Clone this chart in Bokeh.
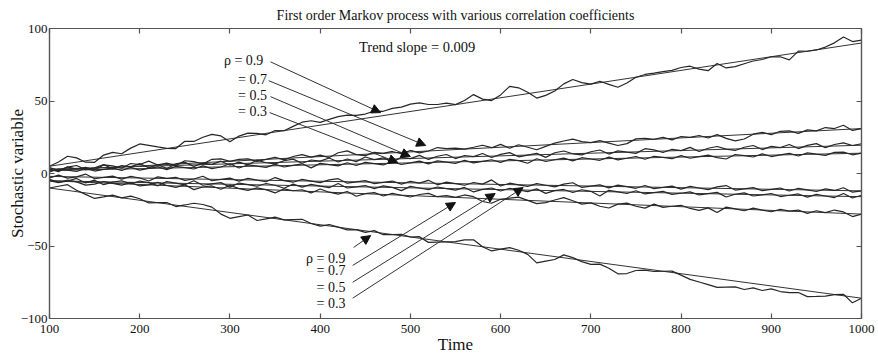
from bokeh.plotting import figure
from bokeh.models import LinearAxis, Range1d, FixedTicker, ColumnDataSource, Arrow, NormalHead
from bokeh.core.properties import value
from bokeh.embed import file_html
from bokeh.resources import INLINE

# ---------------- data ----------------
time = list(range(100, 1001, 10))

x_ticks = [100, 200, 300, 400, 500, 600, 700, 800, 900, 1000]
y_ticks = [-100, -50, 0, 50, 100]

# upper group (positive trends)
up_rho09 = [5.0, 7.9, 11.9, 10.8, 7.8, 7.7, 12.7, 14.6, 13.6, 17.5,
            20.4, 19.4, 18.3, 17.3, 17.2, 22.2, 22.1, 25.0, 27.0, 25.9,
            21.9, 25.8, 27.8, 27.7, 26.7, 29.6, 29.5, 32.5, 35.4, 36.4,
            35.3, 37.3, 39.2, 40.2, 40.1, 41.0, 43.0, 42.9, 44.9, 45.8,
            47.8, 48.7, 47.6, 47.6, 48.5, 47.5, 50.4, 54.4, 51.3, 50.3,
            54.2, 60.1, 59.1, 56.0, 52.0, 53.9, 56.9, 61.8, 64.8, 62.7,
            61.6, 63.6, 61.5, 59.5, 62.4, 66.4, 68.3, 69.2, 70.2, 71.1,
            73.1, 74.0, 72.0, 70.9, 75.9, 72.8, 73.7, 75.7, 77.6, 78.6,
            80.5, 80.5, 78.4, 84.4, 84.3, 85.2, 87.2, 90.1, 94.1, 91.0,
            92.0]
up_rho07 = [3.0, 1.3, 4.6, 3.0, 4.3, 2.6, 5.9, 5.3, 3.6, 6.9,
            6.2, 8.5, 5.9, 7.2, 5.5, 8.8, 8.2, 6.5, 9.8, 10.1,
            8.4, 9.8, 10.1, 8.4, 9.7, 11.1, 9.4, 11.7, 13.0, 11.3,
            12.7, 11.0, 14.3, 15.6, 13.0, 12.3, 14.6, 13.9, 15.2, 13.6,
            15.9, 14.2, 15.5, 17.9, 17.2, 17.5, 16.8, 18.1, 19.5, 17.8,
            20.1, 17.4, 19.8, 18.1, 16.4, 18.7, 21.0, 22.4, 23.7, 22.0,
            21.3, 22.7, 21.0, 19.3, 20.6, 23.9, 24.3, 23.6, 24.9, 23.2,
            25.5, 24.9, 26.2, 24.5, 26.8, 24.2, 22.5, 23.8, 27.1, 28.4,
            26.8, 29.1, 29.4, 27.7, 30.1, 29.4, 31.7, 31.0, 33.3, 29.7,
            31.0]
up_rho05 = [4.0, 2.2, 4.4, 5.5, 2.7, 3.9, 6.1, 3.3, 5.5, 4.6,
            6.8, 4.0, 6.2, 3.4, 6.6, 7.7, 4.9, 7.1, 6.3, 8.5,
            5.7, 7.8, 6.0, 9.2, 7.4, 6.6, 8.8, 9.9, 7.1, 9.3,
            8.5, 10.7, 7.9, 10.0, 8.2, 11.4, 9.6, 10.8, 8.0, 11.1,
            10.3, 12.5, 9.7, 11.9, 13.1, 10.3, 12.4, 11.6, 13.8, 11.0,
            13.2, 14.4, 11.5, 12.7, 13.9, 11.1, 14.3, 15.5, 13.6, 12.8,
            15.0, 16.2, 13.4, 15.6, 14.7, 13.9, 17.1, 16.3, 14.5, 16.7,
            15.8, 18.0, 15.2, 17.4, 18.6, 16.8, 15.9, 18.1, 19.3, 16.5,
            18.7, 17.9, 20.0, 17.2, 19.4, 20.6, 17.8, 20.0, 21.1, 19.3,
            20.5]
up_rho03 = [1.0, 3.1, 2.3, 1.4, 3.5, 1.7, 2.8, 3.9, 2.1, 4.2,
            2.3, 3.5, 4.6, 2.7, 4.9, 4.0, 3.1, 5.3, 3.4, 4.5,
            6.7, 3.8, 5.9, 5.1, 4.2, 6.3, 4.5, 5.6, 6.7, 3.9,
            7.0, 6.1, 5.3, 7.4, 5.5, 7.7, 6.8, 5.9, 8.1, 6.2,
            7.3, 8.5, 6.6, 8.7, 7.9, 7.0, 9.1, 7.3, 8.4, 9.5,
            7.7, 9.8, 8.9, 7.1, 10.2, 8.3, 9.5, 10.6, 8.7, 10.9,
            10.0, 9.1, 11.3, 9.4, 10.5, 11.7, 9.8, 11.9, 11.1, 10.2,
            12.3, 10.5, 11.6, 12.7, 10.9, 10.0, 13.1, 12.3, 11.4, 13.5,
            11.7, 12.8, 13.9, 12.1, 14.2, 13.3, 12.5, 14.6, 14.7, 12.9,
            14.0]

# lower group (negative trends)
lo_rho03 = [-3.0, -1.1, -3.2, -2.3, -0.4, -3.6, -2.7, -1.8, -3.9, -2.0,
            -3.1, -5.2, -2.3, -3.4, -2.6, -4.7, -3.8, -1.9, -5.0, -4.1,
            -3.2, -5.3, -3.4, -4.6, -5.7, -2.8, -4.9, -6.0, -4.1, -5.2,
            -6.3, -4.4, -3.6, -6.7, -5.8, -4.9, -7.0, -6.1, -5.2, -7.3,
            -5.4, -6.6, -4.7, -7.8, -5.9, -7.0, -8.1, -6.2, -7.3, -4.4,
            -8.6, -6.7, -7.8, -8.9, -7.0, -8.1, -9.2, -7.3, -6.4, -9.6,
            -8.7, -7.8, -9.9, -8.0, -9.1, -10.2, -8.3, -10.4, -9.6, -8.7,
            -10.8, -8.9, -10.0, -11.1, -9.2, -8.3, -11.4, -10.6, -9.7, -11.8,
            -10.9, -10.0, -12.1, -10.2, -11.3, -12.4, -10.6, -11.7, -9.8, -12.9,
            -12.0]
lo_rho05 = [-4.0, -6.1, -5.2, -3.4, -6.5, -4.6, -7.7, -5.9, -5.0, -7.1,
            -5.2, -6.3, -8.5, -5.6, -6.7, -7.8, -5.0, -8.1, -7.2, -6.3,
            -9.4, -6.6, -7.7, -8.8, -6.9, -8.1, -10.2, -7.3, -9.4, -7.5,
            -8.7, -9.8, -6.9, -10.0, -9.2, -8.3, -10.4, -8.5, -9.6, -11.8,
            -8.9, -10.0, -11.1, -9.3, -10.4, -11.5, -9.6, -12.7, -10.9, -10.0,
            -12.1, -10.2, -11.4, -12.5, -10.6, -13.7, -11.8, -11.0, -13.1, -11.2,
            -12.3, -15.5, -11.6, -12.7, -13.8, -11.9, -14.1, -13.2, -12.3, -14.4,
            -13.6, -12.7, -14.8, -13.9, -13.0, -16.2, -14.3, -13.4, -15.5, -14.7,
            -13.8, -15.9, -15.0, -14.1, -16.3, -14.4, -15.5, -16.6, -13.8, -16.9,
            -15.0]
lo_rho07 = [-5.0, -6.3, -4.5, -5.8, -8.0, -7.3, -5.5, -6.8, -8.0, -6.3,
            -8.6, -7.8, -6.1, -8.3, -9.6, -7.8, -11.1, -9.3, -8.6, -10.9,
            -8.1, -10.4, -11.6, -9.9, -11.1, -13.4, -10.6, -11.9, -11.2, -13.4,
            -10.7, -12.9, -14.2, -12.4, -15.7, -13.9, -13.2, -15.5, -13.7, -15.0,
            -16.2, -14.5, -13.7, -16.0, -15.2, -16.5, -14.8, -16.0, -19.3, -20.5,
            -17.8, -17.0, -16.3, -18.5, -20.8, -20.1, -18.3, -16.6, -18.8, -21.1,
            -20.3, -22.6, -23.8, -21.1, -20.4, -22.6, -23.9, -21.1, -23.4, -22.6,
            -21.9, -24.1, -25.4, -23.7, -26.9, -23.2, -24.4, -25.7, -23.9, -25.2,
            -26.4, -24.7, -26.0, -25.2, -27.5, -25.7, -27.0, -25.2, -26.5, -29.7,
            -28.0]
lo_rho09 = [-10.0, -8.8, -7.7, -11.5, -14.4, -17.2, -16.1, -14.9, -16.8, -15.6,
            -17.4, -20.3, -20.1, -20.0, -22.8, -21.7, -20.5, -21.4, -23.2, -28.0,
            -30.9, -29.7, -28.6, -32.4, -31.3, -30.1, -32.0, -31.8, -31.6, -34.5,
            -36.3, -35.2, -37.0, -38.9, -38.7, -40.6, -39.4, -42.2, -42.1, -41.9,
            -43.8, -43.6, -47.5, -47.3, -47.2, -47.0, -45.8, -45.7, -50.5, -53.4,
            -52.2, -51.1, -52.9, -55.8, -61.6, -60.4, -59.3, -56.1, -58.0, -60.8,
            -62.7, -62.5, -65.4, -69.2, -69.0, -66.9, -66.7, -67.6, -67.4, -67.3,
            -70.1, -73.0, -74.8, -76.6, -78.5, -78.3, -78.2, -80.0, -78.9, -80.7,
            -79.6, -81.4, -82.2, -82.1, -84.9, -84.8, -84.6, -83.5, -83.3, -89.2,
            -86.0]

# straight trend lines: value at time 100 and at time 1000
trend_t0 = [100, 100, 100, 100, 100, 100, 100, 100]
trend_t1 = [1000, 1000, 1000, 1000, 1000, 1000, 1000, 1000]
trend_v0 = [5.0, 2.0, 3.0, 2.0, -2.0, -5.0, -5.0, -10.0]
trend_v1 = [90.0, 31.0, 19.5, 14.0, -12.0, -16.0, -28.0, -86.0]

# annotation texts and their anchors (data coordinates)
label_text = ["\u03c1 = 0.9", "= 0.7", "= 0.5", "= 0.3",
              "\u03c1 = 0.9", "= 0.7", "= 0.5", "= 0.3"]
label_x = [337, 341, 341, 341, 428, 428, 428, 428]
label_y = [78.0, 64.8, 53.8, 42.8, -58.6, -66.9, -78.6, -89.7]

arrow_x0 = [345, 343, 345, 344, 437, 436, 436, 436]
arrow_y0 = [77.0, 64.0, 53.0, 42.0, -51.0, -63.4, -75.0, -86.0]
arrow_x1 = [467, 517, 500, 486, 456, 550, 594, 625]
arrow_y1 = [42.0, 19.3, 11.7, 7.6, -42.8, -20.0, -13.8, -9.7]

slope_text = ["Trend slope = 0.009"]
slope_x = [443]
slope_y = [87.0]

title_text = "First order Markov process with various correlation coefficients"

# ---------------- figure ----------------
SERIF = "Liberation Serif"
AX = "#555555"
INK = "#111111"

p = figure(frame_width=812, frame_height=290,
           x_range=Range1d(100, 1000), y_range=Range1d(-100, 100),
           output_backend="svg", toolbar_location=None,
           min_border_left=49, min_border_right=17, min_border_top=28, min_border_bottom=38)
p.background_fill_color = "white"
p.border_fill_color = "white"
p.outline_line_color = AX
p.outline_line_width = 1.2
p.grid.visible = False

p.title.text = title_text
p.title.align = "center"
p.title.vertical_align = "top"
p.title.text_font = SERIF
p.title.text_font_size = "14px"
p.title.text_font_style = "normal"
p.title.text_color = INK
p.title.standoff = 8

xa = p.xaxis[0]
xa.ticker = FixedTicker(ticks=x_ticks)
ya = p.yaxis[0]
ya.ticker = FixedTicker(ticks=y_ticks)
for ax in (xa, ya):
    ax.major_tick_in = 5
    ax.major_tick_out = 0
    ax.minor_tick_line_color = None
    ax.axis_line_color = AX
    ax.axis_line_width = 1.2
    ax.major_tick_line_color = AX
    ax.major_tick_line_width = 1.2
    ax.major_label_text_font = SERIF
    ax.major_label_text_font_size = "13px"
    ax.major_label_text_color = INK
    ax.axis_label_text_font = SERIF
    ax.axis_label_text_font_style = "normal"
    ax.axis_label_text_color = INK
xa.axis_label = "Time"
xa.axis_label_text_font_size = "17px"
xa.major_label_standoff = 6
xa.axis_label_standoff = -1
ya.axis_label = "Stochastic variable"
ya.axis_label_text_font_size = "17px"
ya.major_label_standoff = 2
ya.axis_label_standoff = -9

top = LinearAxis(ticker=FixedTicker(ticks=x_ticks))
right = LinearAxis(ticker=FixedTicker(ticks=y_ticks))
for ax in (top, right):
    ax.major_tick_in = 5
    ax.major_tick_out = 0
    ax.minor_tick_line_color = None
    ax.axis_line_color = AX
    ax.axis_line_width = 1.2
    ax.major_tick_line_color = AX
    ax.major_tick_line_width = 1.2
    ax.major_label_text_font_size = "1px"
    ax.major_label_text_color = None
    ax.major_label_standoff = 0
p.add_layout(top, "above")
p.add_layout(right, "right")

# trend lines
p.segment(x0=trend_t0, y0=trend_v0, x1=trend_t1, y1=trend_v1, line_color="#333333", line_width=1)

# noisy series
for series in (up_rho09, up_rho07, up_rho05, up_rho03, lo_rho03, lo_rho05, lo_rho07, lo_rho09):
    p.line(time, series, line_color="#262626", line_width=1.2)

# arrows
arrow_src = ColumnDataSource(dict(x0=arrow_x0, y0=arrow_y0, x1=arrow_x1, y1=arrow_y1))
p.add_layout(Arrow(end=NormalHead(size=9, fill_color=INK, line_color=INK, line_width=1),
                   x_start="x0", y_start="y0", x_end="x1", y_end="y1", source=arrow_src,
                   line_color="#333333", line_width=1))

# labels
p.text(x=label_x, y=label_y, text=label_text, text_font=value(SERIF), text_font_size=value("14px"),
       text_align="right", text_baseline="middle", text_color=INK)
p.text(x=slope_x, y=slope_y, text=slope_text, text_font=value(SERIF), text_font_size=value("14.5px"),
       text_align="left", text_baseline="middle", text_color=INK)

open("out.html", "w").write(file_html(p, INLINE))
